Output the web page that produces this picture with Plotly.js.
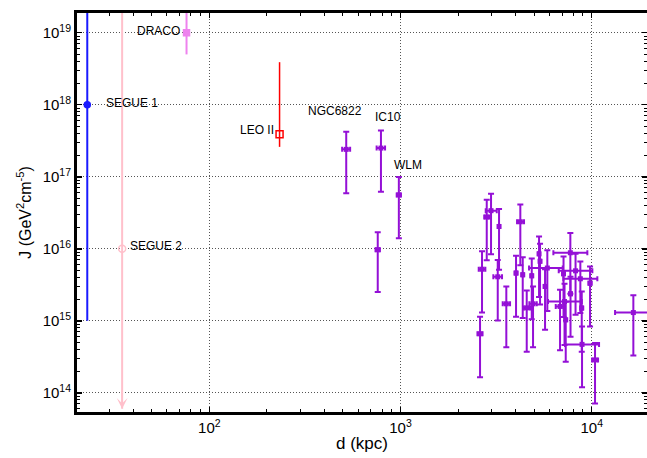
<!DOCTYPE html>
<html>
<head>
<meta charset="utf-8">
<script src="https://cdn.plot.ly/plotly-3.0.1.min.js"></script>
<style>html,body{margin:0;padding:0;overflow:hidden;background:#fff;}</style>
</head>
<body>
<div id="chart" style="width:647px;height:458px;"></div>
<script>
// ---- Data: Milky Way dwarfs ----
const dwarfNames = ['SEGUE 1', 'SEGUE 2', 'DRACO', 'LEO II'];
const dwarfDist  = [23, 35, 76, 233];            // kpc
const dwarfJ     = [1e18, 1e16, 1e19, 3.9e17];    // GeV^2 cm^-5
const dwarfJHi   = [1e21, 1e21, 1e21, 3.9e18];
const dwarfJLo   = [1e15, 6e13, 5e18, 2.6e17];

// ---- Data: distant dwarf galaxies (purple) ----
const galNames = ['NGC6822', 'IC10', 'WLM'];
const galDist   = [520, 790, 980, 760, 2605, 2668, 2824, 2974, 3275, 3224, 3575, 4232, 4019, 4356, 4571, 4856, 4932, 5302, 5366, 5699, 5858, 7729, 7745, 8718, 8229, 9797, 8866, 6827, 7206, 7311, 8898, 10404, 16504, 7120];
const galDistLo = [495, 750, 955, 740, 2525, 2564, 2740, 2790, 3235, 3058, 3423, 4068, 3960, 4296, 4410, 4796, 4717, 5242, 5306, 5629, 4700, 6300, 7645, 7104, 6721, 9627, 8746, 6482, 5906, 7231, 7251, 10037, 13244, 7030];
const galDistHi = [545, 830, 1005, 780, 2685, 2777, 2910, 3186, 3315, 3395, 3739, 4424, 4080, 4416, 4757, 4916, 5157, 5362, 5426, 5769, 7051, 9484, 7845, 10698, 10072, 9967, 8986, 7104, 8866, 7391, 10920, 10790, 20570, 7210];
const galJ      = [2.4e17, 2.5e17, 5.6e16, 9.7e15, 6.6e14, 5.2e15, 2.76e16, 3.38e16, 2.04e16, 4.08e15, 1.72e15, 2.37e16, 4.59e15, 4.35e15, 1.51e15, 4.21e15, 1.72e15, 8.5e15, 6.7e15, 3.0e15, 5.4e15, 8.8e15, 2.37e15, 3.83e15, 4.94e15, 3.33e15, 1.50e15, 1.58e15, 1.85e15, 1.03e15, 4.7e14, 2.86e14, 1.30e15, 4.49e15];
const galJLo    = [5.9e16, 6.2e16, 1.4e16, 2.5e15, 1.64e14, 1.30e15, 6.9e15, 8.4e15, 5.1e15, 1.01e15, 4.3e14, 5.9e15, 1.14e15, 1.09e15, 3.7e14, 1.05e15, 4.3e14, 2.13e15, 1.68e15, 7.5e14, 1.37e15, 2.37e15, 6.0e14, 1.28e15, 1.21e15, 8.3e14, 3.7e14, 3.9e14, 4.6e14, 2.7e14, 1.19e14, 7.1e13, 3.3e14, 1.13e15];
const galJHi    = [4.2e17, 4.4e17, 9.9e16, 1.7e16, 1.14e15, 9.2e15, 4.8e16, 5.8e16, 3.57e16, 7.0e15, 3.0e15, 4.13e16, 8.0e15, 7.6e15, 2.63e15, 7.3e15, 3.0e15, 1.48e16, 1.17e16, 5.2e15, 9.5e15, 1.65e16, 4.1e15, 6.66e15, 8.5e15, 5.67e15, 2.55e15, 2.69e15, 3.26e15, 1.83e15, 8.3e14, 4.9e14, 2.27e15, 7.8e15];

// ---- Tick labels ----
const xTickVals = [100, 1000, 10000];
const xTickText = ['10<sup>2</sup>', '10<sup>3</sup>', '10<sup>4</sup>'];
const yTickVals = [1e14, 1e15, 1e16, 1e17, 1e18, 1e19];
const yTickText = ['10<sup>14</sup>', '10<sup>15</sup>', '10<sup>16</sup>', '10<sup>17</sup>', '10<sup>18</sup>', '10<sup>19</sup>'];
const minorDigits = [2, 3, 4, 5, 6, 7, 8, 9];
const xMinorDecades = [10, 100, 1000, 10000];
const yMinorDecades = [1e13, 1e14, 1e15, 1e16, 1e17, 1e18, 1e19];
const xMinorVals = [].concat(...xMinorDecades.map(d => minorDigits.map(m => m * d)));
const yMinorVals = [].concat(...yMinorDecades.map(d => minorDigits.map(m => m * d)));

// ---- Styles (not data) ----
const dwarfStyle = [
  {color: '#1a1aff', symbol: 'circle', size: 6, lw: 2},
  {color: '#ffc0cb', symbol: 'circle-open', size: 7, lw: 2},
  {color: '#ee82ee', symbol: 'square', size: 6, lw: 2},
  {color: '#ff0000', symbol: 'square-open', size: 7, lw: 1.5}
];
const dwarfLabelPos = [
  {xanchor: 'left', xshift: 17, yshift: 2},
  {xanchor: 'left', xshift: 6, yshift: 3},
  {xanchor: 'right', xshift: -5, yshift: 2},
  {xanchor: 'right', xshift: -4, yshift: 4}
];
const galLabelPos = [
  {xanchor: 'center', xshift: -11, yshift: 38},
  {xanchor: 'center', xshift: 7, yshift: 31},
  {xanchor: 'center', xshift: 9, yshift: 30}
];
const purple = '#9410d6';
const FONT = 'Liberation Sans, Arial, sans-serif';

const traces = [];
dwarfNames.forEach((n, i) => {
  const s = dwarfStyle[i];
  traces.push({
    type: 'scatter', mode: 'markers', name: n,
    x: [dwarfDist[i]], y: [dwarfJ[i]],
    marker: {color: s.color, symbol: s.symbol, size: s.size, line: {color: s.color, width: 1.5}},
    error_y: {type: 'data', symmetric: false, array: [dwarfJHi[i] - dwarfJ[i]], arrayminus: [dwarfJ[i] - dwarfJLo[i]],
              color: s.color, thickness: s.lw, width: 0}
  });
});

traces.push({
  type: 'scatter', mode: 'markers', name: 'galaxies',
  x: galDist, y: galJ,
  marker: {color: purple, symbol: 'square', size: 5, line: {color: purple, width: 0}},
  error_y: {type: 'data', symmetric: false,
            array: galJHi.map((v, i) => v - galJ[i]),
            arrayminus: galJ.map((v, i) => v - galJLo[i]),
            color: purple, thickness: 2, width: 3},
  error_x: {type: 'data', symmetric: false,
            array: galDistHi.map((v, i) => v - galDist[i]),
            arrayminus: galDist.map((v, i) => v - galDistLo[i]),
            color: purple, thickness: 2, width: 2.5}
});
// empty trace so the minor-tick overlay axes are drawn
traces.push({type: 'scatter', mode: 'markers', x: [], y: [], xaxis: 'x2', yaxis: 'y2', hoverinfo: 'skip'});

const labelFont = {family: FONT, size: 12, color: '#000'};
const annotations = [];
dwarfNames.forEach((n, i) => {
  const p = dwarfLabelPos[i];
  annotations.push({x: Math.log10(dwarfDist[i]), y: Math.log10(dwarfJ[i]), xref: 'x', yref: 'y',
    text: n, showarrow: false, xanchor: p.xanchor, yanchor: 'middle', xshift: p.xshift, yshift: p.yshift, font: labelFont});
});
galNames.forEach((n, i) => {
  const p = galLabelPos[i];
  annotations.push({x: Math.log10(galDist[i]), y: Math.log10(galJ[i]), xref: 'x', yref: 'y',
    text: n, showarrow: false, xanchor: p.xanchor, yanchor: 'middle', xshift: p.xshift, yshift: p.yshift, font: labelFont});
});
// Upper-limit arrow for SEGUE 2
annotations.push({x: Math.log10(dwarfDist[1]), y: Math.log10(dwarfJLo[1]), xref: 'x', yref: 'y',
  text: '', showarrow: true, ax: 0, ay: -20, arrowhead: 3, arrowsize: 1.2, arrowwidth: 1.5, arrowcolor: '#ffc0cb', standoff: 0});

const axisFont = {family: FONT, size: 15, color: '#000'};
const xRange = [1.308, 4.289];
const yRange = [13.733, 19.274];
const gridStyle = {showgrid: true, gridcolor: '#555', gridwidth: 1, griddash: '1px,2px'};
const layout = {
  width: 647, height: 458,
  margin: {l: 77, r: 0, t: 13, b: 46, pad: 0},
  paper_bgcolor: '#fff', plot_bgcolor: '#fff',
  showlegend: false,
  xaxis: Object.assign({
    type: 'log', range: xRange,
    tickmode: 'array', tickvals: xTickVals, ticktext: xTickText,
    ticks: 'inside', ticklen: 5, tickwidth: 1.5, tickcolor: '#000',
    showline: true, linecolor: '#000', linewidth: 3, mirror: 'ticks',
    zeroline: false, tickfont: axisFont,
    title: {text: 'd (kpc)', font: {family: FONT, size: 17, color: '#000'}, standoff: 3}
  }, gridStyle),
  yaxis: Object.assign({
    type: 'log', range: yRange,
    tickmode: 'array', tickvals: yTickVals, ticktext: yTickText,
    ticks: 'inside', ticklen: 5, tickwidth: 1.5, tickcolor: '#000',
    showline: true, linecolor: '#000', linewidth: 3, mirror: 'ticks',
    zeroline: false, tickfont: axisFont,
    title: {text: 'J (GeV<sup>2</sup>cm<sup>-5</sup>)', font: {family: FONT, size: 16, color: '#000'}, standoff: 8}
  }, gridStyle),
  xaxis2: {
    type: 'log', range: xRange, overlaying: 'x', anchor: 'y', side: 'bottom',
    tickmode: 'array', tickvals: xMinorVals, showticklabels: false,
    ticks: 'inside', ticklen: 3, tickwidth: 1, tickcolor: '#000', mirror: 'ticks',
    showline: false, showgrid: false, zeroline: false
  },
  yaxis2: {
    type: 'log', range: yRange, overlaying: 'y', anchor: 'x', side: 'left',
    tickmode: 'array', tickvals: yMinorVals, showticklabels: false,
    ticks: 'inside', ticklen: 3, tickwidth: 1, tickcolor: '#000', mirror: 'ticks',
    showline: false, showgrid: false, zeroline: false
  },
  annotations: annotations
};

Plotly.newPlot('chart', traces, layout, {displayModeBar: false, staticPlot: true});
</script>
</body>
</html>
